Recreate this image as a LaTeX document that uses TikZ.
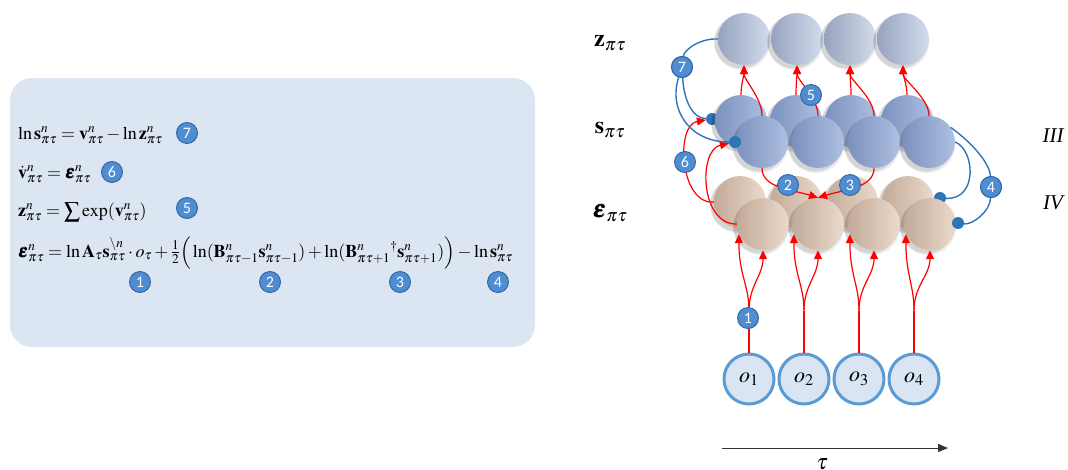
\documentclass[tikz,border=0pt]{standalone}
\usepackage{amsmath}
\usepackage{mathptmx}
\usepackage{bm}
\usepackage{fontspec}
\setmainfont{Liberation Serif}
\newfontfamily\numfont{Carlito}
\usetikzlibrary{arrows.meta}
\definecolor{boxbg}{HTML}{DCE6F2}
\definecolor{cnumf}{HTML}{4F8CD0}
\definecolor{cnumd}{HTML}{2F64A4}
\definecolor{bline}{HTML}{2E75B6}
\definecolor{zL}{HTML}{97A3BE}
\definecolor{zR}{HTML}{D3DCEC}
\definecolor{sL}{HTML}{7B91BC}
\definecolor{sR}{HTML}{AEC0E2}
\definecolor{eL}{HTML}{C2AA98}
\definecolor{eR}{HTML}{EBDACC}
\definecolor{oF}{HTML}{DAE5F3}
\definecolor{oD}{HTML}{5B9BD5}
\newcommand\mysphere[4]{%
  \fill[black,opacity=0.07] (#2-2,#3+3) circle (28pt);
  \fill[black,opacity=0.10] (#2-3,#3+3) circle (26.5pt);
  \node[#4] (#1) at (#2,#3) {};}
\newcommand\bigsum{\mathop{\raisebox{-2pt}{\scalebox{1.25}{$\sum$}}}}
\begin{document}
\begin{tikzpicture}[x=1pt,y=-1pt,
  ball/.style={circle, minimum size=52pt, inner sep=0pt},
  zball/.style={ball, left color=zL, right color=zR},
  sball/.style={ball, left color=sL, right color=sR},
  eball/.style={ball, left color=eL, right color=eR},
  obs/.style={circle, minimum size=50pt, inner sep=0pt, fill=oF, draw=oD, line width=3pt, font=\fontsize{22}{22}\selectfont},
  cnum/.style={circle, fill=cnumf, draw=cnumd, line width=0.9pt, text=white, inner sep=0pt, minimum size=21pt, font=\numfont\fontsize{16}{16}\selectfont},
  bdot/.style={circle, fill=bline, inner sep=0pt, minimum size=12pt},
  redln/.style={red, line width=1.2pt},
  redarr/.style={red, line width=1.2pt, -{Triangle[length=9pt,width=8pt]}},
  bln/.style={bline, line width=1.4pt},
  eqn/.style={anchor=base west, inner sep=0pt, font=\fontsize{18}{20}\selectfont},
  lab/.style={font=\fontsize{24}{24}\selectfont},
  roman/.style={font=\fontsize{21}{21}\selectfont\itshape}]
\useasboundingbox (0,0) rectangle (1068,469);
% ---------- left panel ----------
\fill[boxbg, rounded corners=22pt] (10,78) rectangle (535,347);
\node[eqn] (eq1) at (18,139) {$\ln\mathbf{s}^{n}_{\pi\tau} = \mathbf{v}^{n}_{\pi\tau} - \ln\mathbf{z}^{n}_{\pi\tau}$};
\node[eqn] (eq2) at (18,178) {$\dot{\mathbf{v}}^{n}_{\pi\tau} = \bm{\varepsilon}^{n}_{\pi\tau}$};
\node[eqn] (eq3) at (18,216) {$\mathbf{z}^{n}_{\pi\tau} = \bigsum\exp(\mathbf{v}^{n}_{\pi\tau})$};
\node[eqn] (eq4) at (18,257) {$\bm{\varepsilon}^{n}_{\pi\tau} = \ln\mathbf{A}_{\tau}\mathbf{s}^{\backslash n}_{\pi\tau}\cdot o_{\tau} + \tfrac{1}{2}\Big(\ln(\mathbf{B}^{n}_{\pi\tau-1}\mathbf{s}^{n}_{\pi\tau-1}) + \ln(\mathbf{B}^{n}_{\pi\tau+1}{}^{\dagger}\mathbf{s}^{n}_{\pi\tau+1})\Big) - \ln\mathbf{s}^{n}_{\pi\tau}$};
\node[cnum] (n7) at (187,133) {7};
\node[cnum] (n6) at (112,172) {6};
\node[cnum] (n5) at (187,208) {5};
\node[cnum] (n1) at (140,282) {1};
\node[cnum] (n2) at (270,282) {2};
\node[cnum] (n3) at (400,282) {3};
\node[cnum] (n4) at (498,282) {4};
% ---------- labels ----------
\node[lab] (lz) at (610,43) {$\mathbf{z}_{\pi\tau}$};
\node[lab] (ls) at (610,130) {$\mathbf{s}_{\pi\tau}$};
\node[lab] (le) at (610,213) {$\bm{\varepsilon}_{\pi\tau}$};
\node[roman] (l3) at (1053,136) {III};
\node[roman] (l4) at (1053,203) {IV};
% ---------- spheres ----------
\foreach \i/\x in {1/744,2/797,3/850,4/903} {\mysphere{z\i}{\x}{39}{zball}}
\node[bdot] (d1) at (712,119) {};
\foreach \i/\x in {1/741,2/796,3/851,4/907} {\mysphere{sb\i}{\x}{121}{sball}}
\foreach \i/\x in {1/762,2/818,3/874,4/929} {\mysphere{sf\i}{\x}{142}{sball}}
\node[bdot] (d2) at (735,142) {};
\foreach \i/\x in {1/740,2/796,3/852,4/908} {\mysphere{eb\i}{\x}{202}{eball}}
\node[bdot] (d3) at (940,198) {};
\foreach \i/\x in {1/763,2/818,3/874,4/930} {\mysphere{ef\i}{\x}{224}{eball}}
\node[bdot] (d4) at (958,223) {};
% ---------- observations ----------
\node[obs] (o1) at (749,379) {$o_{1}$};
\node[obs] (o2) at (804,379) {$o_{2}$};
\node[obs] (o3) at (859,379) {$o_{3}$};
\node[obs] (o4) at (914,379) {$o_{4}$};
% ---------- red: o -> epsilon ----------
\foreach \i in {1,2,3,4} {
  \draw[redln] (o\i.north) -- ++(0,-42) coordinate (br\i);
  \draw[redarr] (br\i) .. controls +(0,-25) and +(0,40) .. (ef\i.203);
  \draw[redarr] (br\i) .. controls +(0,-25) and +(0,25) .. (ef\i.south);
}
% ---------- red: s -> z ----------
\foreach \i in {1,2,3,4} {
  \draw[redarr] (sb\i.north) .. controls +(0,-10) and +(0,10) .. (z\i.south);
  \draw[redarr] (sf\i.north) .. controls +(0,-18) and +(0,15) .. (z\i.south);
}
% ---------- red: s -> epsilon (2,3) ----------
\draw[redarr] (sf1.south) .. controls +(0,20) and +(-25,-8) .. (ef2.north);
\draw[redarr] (sf3.south) .. controls +(0,20) and +(25,-8) .. (ef2.north);
% ---------- red: epsilon -> s (6) ----------
\draw[redarr] (eb1.west) .. controls (680,205) and (675,125) .. (d1);
\draw[redarr] (ef1.west) .. controls (700,225) and (698,150) .. (d2);
% ---------- blue: 7 ----------
\node[cnum] (c7) at (682,67) {7};
\draw[bln] (z1.west) .. controls (700,38) and (684,50) .. (c7);
\draw[bln] (c7) .. controls (684,100) and (692,118) .. (d1);
\draw[bln] (c7) .. controls (668,110) and (690,142) .. (d2);
\node[cnum] at (c7) {7};
% ---------- blue: 4 ----------
\node[cnum] (c4) at (991,187) {4};
\draw[bln] (sf4.34) .. controls (975,145) and (990,165) .. (c4);
\draw[bln] (c4) .. controls (990,212) and (972,225) .. (d4);
\draw[bln] (sf4.east) .. controls (975,150) and (978,200) .. (d3);
\node[cnum] at (c4) {4};
% ---------- numbered markers ----------
\node[cnum] (c1) at (748,318) {1};
\node[cnum] (c2) at (788,185) {2};
\node[cnum] (c3) at (850,185) {3};
\node[cnum] (c5) at (811,95) {5};
\node[cnum] (c6) at (685,162) {6};
% ---------- time axis ----------
\coordinate (tauL) at (722,448);
\coordinate (tauR) at (948,448);
\draw[black!80, line width=1pt, -{Triangle[length=10pt,width=8pt]}] (tauL) -- (tauR);
\node[font=\fontsize{22}{22}\selectfont] (tau) at (822,464) {$\tau$};
\end{tikzpicture}
\end{document}
